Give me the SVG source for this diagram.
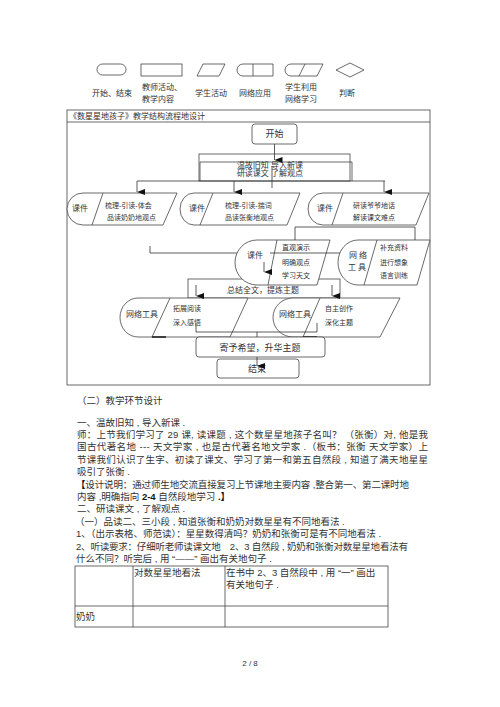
<svg xmlns="http://www.w3.org/2000/svg" width="500" height="707" viewBox="0 0 500 707">
<defs>
<style>
.s{fill:none;stroke:#444;stroke-width:0.8}
.w{fill:#fff;stroke:#444;stroke-width:0.8}
.c{fill:none;stroke:#333;stroke-width:0.8}
.t{font-family:"Liberation Sans","Noto Sans CJK SC",sans-serif;fill:#333}
.f7{font-size:7px}
.f8{font-size:8px}
.f9{font-size:9px}
.m{text-anchor:middle}
.b{font-family:"Liberation Sans","Noto Sans CJK SC",sans-serif;font-size:9.5px;fill:#333}
.bd{font-weight:bold;fill:#111}
</style>
<marker id="ar" viewBox="0 0 6 8" refX="3" refY="8" markerWidth="6" markerHeight="8" markerUnits="userSpaceOnUse" orient="auto-start-reverse">
<path d="M0,0 L6,0 L3,8 Z" fill="#111"/>
</marker>
</defs>
<rect width="500" height="707" fill="#fff"/>

<g id="legend">
<rect class="s" x="97" y="64" width="29" height="11" rx="5.5"/>
<rect class="s" x="141" y="64" width="41" height="12"/>
<path class="s" d="M203,64 L225,64 L219,76 L197,76 Z"/>
<path class="s" d="M243,64 L273,64 L273,76 L243,76 A6,6 0 0 1 243,64 Z M253,64 L253,76"/>
<path class="s" d="M291,64 L323,64 L317,76 L291,76 A6,6 0 0 1 291,64 Z M305,64 L299,76"/>
<path class="s" d="M350,63 L364,70 L350,77 L336,70 Z"/>
<text class="t f8 m" x="112" y="96">开始、结束</text>
<text class="t f8" x="142" y="90">教师活动、</text>
<text class="t f8" x="142" y="102">教学内容</text>
<text class="t f8 m" x="211" y="96">学生活动</text>
<text class="t f8 m" x="255" y="96">网络应用</text>
<text class="t f8" x="285" y="90">学生利用</text>
<text class="t f8" x="285" y="102">网络学习</text>
<text class="t f8 m" x="347" y="96">判断</text>
</g>

<g id="frame">
<rect class="s" x="67" y="110" width="363" height="275"/>
<line class="s" x1="67" y1="122" x2="430" y2="122"/>
<text class="t f8" x="69" y="119">《数星星地孩子》教学结构流程地设计</text>
</g>

<g id="start">
<rect class="w" x="252" y="124" width="45" height="20" rx="3"/>
<text class="t f9 m" x="274.5" y="137">开始</text>
</g>

<g id="review">
<rect class="s" x="199" y="154" width="151" height="27"/>
<path class="s" d="M200,181 L200,162 L352,162 L352,181"/>
<text class="t f8 m" x="270" y="168">温故旧知 导入新课</text>
<text class="t f8 m" x="270" y="175.5">研读课文 了解观点</text>
</g>

<g id="n1">
<path class="w" d="M83,193 L177,193 L163,225 L83,225 A16,16 0 0 1 83,193 Z"/>
<line class="s" x1="103" y1="193" x2="92" y2="225"/>
<text class="t f8 m" x="80" y="211">课件</text>
<text class="t f7" x="105" y="207.5">梳理-引读-体会</text>
<text class="t f7" x="107" y="219.5">品读奶奶地观点</text>
</g>

<g id="n2">
<path class="w" d="M194,193 L300,193 L287,225 L194,225 A14,16 0 0 1 194,193 Z"/>
<line class="s" x1="213" y1="193" x2="200" y2="225"/>
<text class="t f8 m" x="197" y="211">课件</text>
<text class="t f7" x="225" y="207.5">梳理-引读-揣词</text>
<text class="t f7" x="225" y="219.5">品读张衡地观点</text>
</g>

<g id="n3">
<path class="w" d="M323,193 L429,193 L416,225 L323,225 A15,16 0 0 1 323,193 Z"/>
<line class="s" x1="343" y1="193" x2="332" y2="225"/>
<text class="t f8 m" x="325" y="211">课件</text>
<text class="t f7" x="353" y="207.5">研读爷爷地话</text>
<text class="t f7" x="353" y="219.5">解读课文难点</text>
</g>

<g id="summary">
<rect class="s" x="188" y="279" width="152" height="19"/>
<text class="t f8 m" x="263" y="293">总结全文，提炼主题</text>
</g>

<g id="n4">
<path class="w" d="M257,240 L330,240 L317,285 L257,285 A22,22.5 0 0 1 257,240 Z"/>
<line class="s" x1="277" y1="240" x2="268" y2="285"/>
<text class="t f8 m" x="255" y="258">课件</text>
<text class="t f7" x="282" y="249.5">直观演示</text>
<text class="t f7" x="282" y="264.5">明确观点</text>
<text class="t f7" x="282" y="277.5">学习天文</text>
</g>

<g id="n5">
<path class="w" d="M358,240 L430,240 L417,285 L358,285 A20,22.5 0 0 1 358,240 Z"/>
<line class="s" x1="377" y1="240" x2="364" y2="285"/>
<text class="t f8 m" x="358" y="258">网  络</text>
<text class="t f8 m" x="357" y="270">工 具</text>
<text class="t f7" x="380" y="249.5">补充资料</text>
<text class="t f7" x="380" y="264.5">进行想象</text>
<text class="t f7" x="380" y="277.5">语言训练</text>
</g>

<g id="n6">
<path class="w" d="M138,298 L248,298 L230,337 L138,337 A18,19.5 0 0 1 138,298 Z"/>
<line class="s" x1="170" y1="298" x2="152" y2="337"/>
<line x1="152" y1="337" x2="166" y2="337" stroke="#222" stroke-width="1.6"/>
<text class="t f8 m" x="142" y="317">网络工具</text>
<text class="t f7" x="173" y="310.5">拓展阅读</text>
<text class="t f7" x="173" y="324.5">深入感悟</text>
</g>

<g id="n7">
<path class="w" d="M293,298 L400,298 L380,337 L293,337 A20,19.5 0 0 1 293,298 Z"/>
<line class="s" x1="320" y1="298" x2="303" y2="337"/>
<line x1="303" y1="337" x2="317" y2="337" stroke="#222" stroke-width="1.6"/>
<text class="t f8 m" x="295" y="317">网络工具</text>
<text class="t f7" x="325" y="310.5">自主创作</text>
<text class="t f7" x="325" y="324.5">深化主题</text>
</g>

<g id="hope">
<rect class="w" x="196" y="337" width="129" height="20" rx="3"/>
<text class="t f9 m" x="260" y="351">寄予希望，升华主题</text>
</g>

<g id="end">
<rect class="w" x="217" y="359" width="82" height="19" rx="3"/>
<text class="t f9 m" x="257" y="372">结束</text>
</g>

<g id="connectors">
<line class="c" x1="274.5" y1="144" x2="274.5" y2="160" marker-end="url(#ar)"/>
<line class="c" x1="272" y1="166" x2="272" y2="188"/>
<line class="c" x1="137" y1="181" x2="385" y2="181"/>
<line class="c" x1="137" y1="181" x2="137" y2="192" marker-end="url(#ar)"/>
<line class="c" x1="234" y1="181" x2="234" y2="192" marker-end="url(#ar)"/>
<line class="c" x1="384" y1="181" x2="384" y2="192" marker-end="url(#ar)"/>
<polyline class="c" points="295,240 295,227 415,227 415,240"/>
<polyline class="c" points="150,246 150,253 237,253"/>
<line class="c" x1="270" y1="253" x2="340" y2="253"/>
<line class="c" x1="264" y1="262" x2="264" y2="272" marker-end="url(#ar)"/>
<line class="c" x1="196" y1="285" x2="196" y2="296" marker-end="url(#ar)"/>
<line class="c" x1="332" y1="285" x2="332" y2="296" marker-end="url(#ar)"/>
<polyline class="c" points="196,323 196,332 317,332 317,323"/>
<line class="c" x1="257" y1="332" x2="257" y2="337"/>
<line class="c" x1="257" y1="357" x2="257" y2="366" marker-end="url(#ar)"/>
</g>

<g id="body">
<text class="b" x="77" y="403.5">（二）教学环节设计</text>
<text class="b" x="77" y="425.5">一、温故旧知 , 导入新课 .</text>
<text class="b" x="77" y="438" textLength="351" lengthAdjust="spacing">师：上节我们学习了 29 课, 读课题 , 这个数星星地孩子名叫？ （张衡）对, 他是我</text>
<text class="b" x="77" y="450.3" textLength="351" lengthAdjust="spacing">国古代著名地 --- 天文学家 , 也是古代著名地文学家 .（板书：张衡 天文学家）上</text>
<text class="b" x="77" y="462.7" textLength="351" lengthAdjust="spacing">节课我们认识了生字、初读了课文、学习了第一和第五自然段 , 知道了满天地星星</text>
<text class="b" x="77" y="475">吸引了张衡 .</text>
<text class="b" x="76" y="487.5" textLength="333" lengthAdjust="spacing"><tspan class="bd">【</tspan>设计说明：通过师生地交流直接复习上节课地主要内容 ,整合第一、第二课时地</text>
<text class="b" x="77" y="500">内容 ,明确指向 <tspan class="bd">2-4</tspan> 自然段地学习 <tspan class="bd">.】</tspan></text>
<text class="b" x="77" y="512.3">二、研读课文 , 了解观点 .</text>
<text class="b" x="75" y="524.7">（一）品读二、三小段 , 知道张衡和奶奶对数星星有不同地看法   .</text>
<text class="b" x="76" y="537">1、（出示表格、师范读）：星星数得清吗？奶奶和张衡可是有不同地看法   .</text>
<text class="b" x="76" y="549.5" textLength="332" lengthAdjust="spacing">2、听读要求：仔细听老师读课文地　2、3 自然段 , 奶奶和张衡对数星星地看法有</text>
<text class="b" x="76" y="562">什么不同？听完后 , 用 “——” 画出有关地句子 .</text>
</g>

<g id="table">
<rect class="s" x="75" y="566" width="313" height="61" stroke-width="1"/>
<line class="s" x1="75" y1="606" x2="388" y2="606" stroke-width="1"/>
<line class="s" x1="133" y1="566" x2="133" y2="627" stroke-width="1"/>
<line class="s" x1="225" y1="566" x2="225" y2="627" stroke-width="1"/>
<text class="b" x="134" y="575.5">对数星星地看法</text>
<text class="b" x="226" y="575.5">在书中 2、3 自然段中 , 用 “一” 画出</text>
<text class="b" x="226" y="587.5">有关地句子 .</text>
<text class="b" x="76" y="619.5">奶奶</text>
</g>

<text class="t f8 m" x="250" y="666">2 / 8</text>
</svg>
